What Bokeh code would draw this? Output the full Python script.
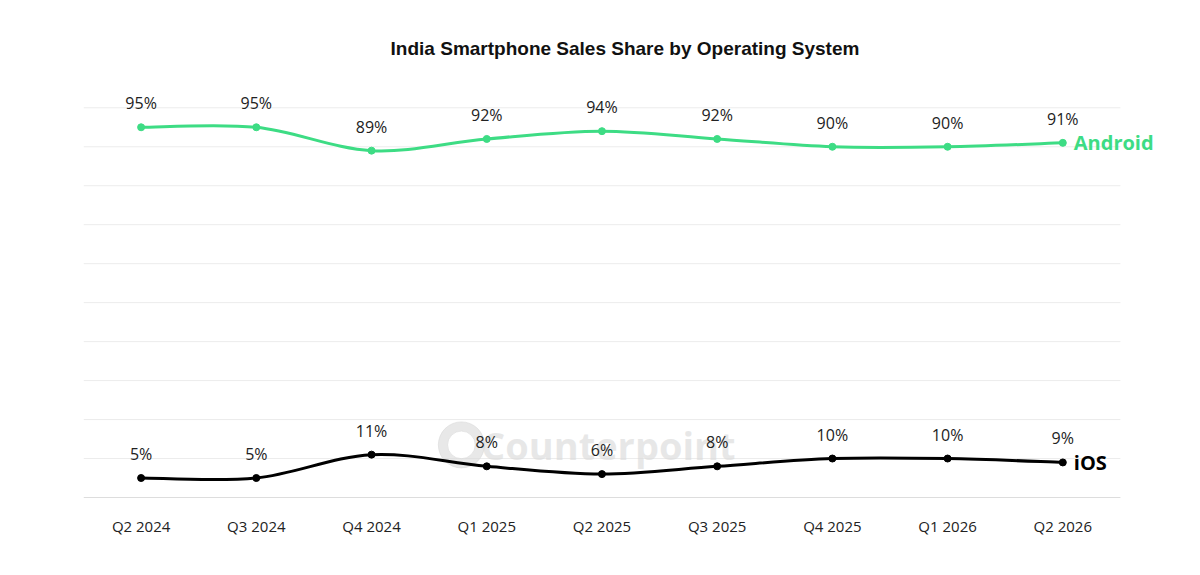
from bokeh.plotting import figure
from bokeh.models import Range1d, FixedTicker, ColumnDataSource
from bokeh.core.properties import value
from bokeh.embed import file_html
from bokeh.resources import INLINE

quarters = ["Q2 2024","Q3 2024","Q4 2024","Q1 2025","Q2 2025","Q3 2025","Q4 2025","Q1 2026","Q2 2026"]
android = [95, 95, 89, 92, 94, 92, 90, 90, 91]
ios = [5, 5, 11, 8, 6, 8, 10, 10, 9]
grid_levels = [0, 10, 20, 30, 40, 50, 60, 70, 80, 90, 100]
GREEN = "#3ddc84"

p = figure(width=1184, height=559, output_backend="svg", toolbar_location=None,
           x_range=Range1d(0, 9.4), y_range=Range1d(0, 107),
           min_border_left=83, min_border_right=18, min_border_top=80, min_border_bottom=62,
           title="India Smartphone Sales Share by Operating System")
p.title.align = "center"
p.title.text_font = "Liberation Sans"
p.title.text_font_size = "19px"
p.title.text_font_style = "bold"
p.title.text_color = "#111111"
p.title.standoff = 43
p.title.offset = 9
p.outline_line_color = None
p.yaxis.visible = False
p.grid.visible = False
xs = [i + 0.5 for i in range(len(quarters))]
p.xaxis.ticker = FixedTicker(ticks=xs)
p.xaxis.major_label_overrides = {x: q for x, q in zip(xs, quarters)}
p.xaxis.axis_line_color = None
p.xaxis.major_tick_line_color = None
p.xaxis.minor_tick_line_color = None
p.xaxis.major_label_text_font = "Open Sans"
p.xaxis.major_label_text_font_size = "15px"
p.xaxis.major_label_text_color = "#222222"
p.xaxis.major_label_standoff = 12

n = len(grid_levels)
p.segment(x0=[0] * n, x1=[9] * n, y0=grid_levels, y1=grid_levels,
          line_color=["#bbbbbb"] + ["#ececec"] * (n - 1), line_width=1)

def bez(ys):
    n = len(ys)
    d = dict(x0=[], y0=[], x1=[], y1=[], cx0=[], cy0=[], cx1=[], cy1=[])
    for i in range(n - 1):
        a = max(i - 1, 0); b = min(i + 2, n - 1)
        d["x0"].append(xs[i]); d["y0"].append(ys[i])
        d["x1"].append(xs[i + 1]); d["y1"].append(ys[i + 1])
        d["cx0"].append(xs[i] + (xs[i + 1] - xs[a]) / 6); d["cy0"].append(ys[i] + (ys[i + 1] - ys[a]) / 6)
        d["cx1"].append(xs[i + 1] - (xs[b] - xs[i]) / 6); d["cy1"].append(ys[i + 1] - (ys[b] - ys[i]) / 6)
    return ColumnDataSource(d)

p.text(x=[3.45], y=[13.5], text=["Counterpoint"], text_font=value("Open Sans"),
       text_font_size="38px", text_font_style="bold", text_color="#d8d8d8", text_alpha=0.6,
       text_baseline="middle", text_align="left")
p.annulus(x=[3.28], y=[13.5], inner_radius=0.12, outer_radius=0.2, color="#d8d8d8", alpha=0.6)

for ys, col, name in [(android, GREEN, "Android"), (ios, "#000000", "iOS")]:
    p.bezier(source=bez(ys), x0="x0", y0="y0", x1="x1", y1="y1", cx0="cx0", cy0="cy0",
             cx1="cx1", cy1="cy1", line_color=col, line_width=3)
    p.scatter(xs, ys, size=7, color=col)
    p.text(xs, ys, text=[f"{v}%" for v in ys], text_font=value("Open Sans"), text_font_size="16px",
           text_color="#222222", text_align="center", text_baseline="middle", y_offset=-24)
    p.text([xs[-1]], [ys[-1]], text=[name], text_font=value("Open Sans"), text_font_size="20px",
           text_font_style="bold", text_color=col, text_align="left", text_baseline="middle", x_offset=11)

open("out.html", "w").write(file_html(p, INLINE))
